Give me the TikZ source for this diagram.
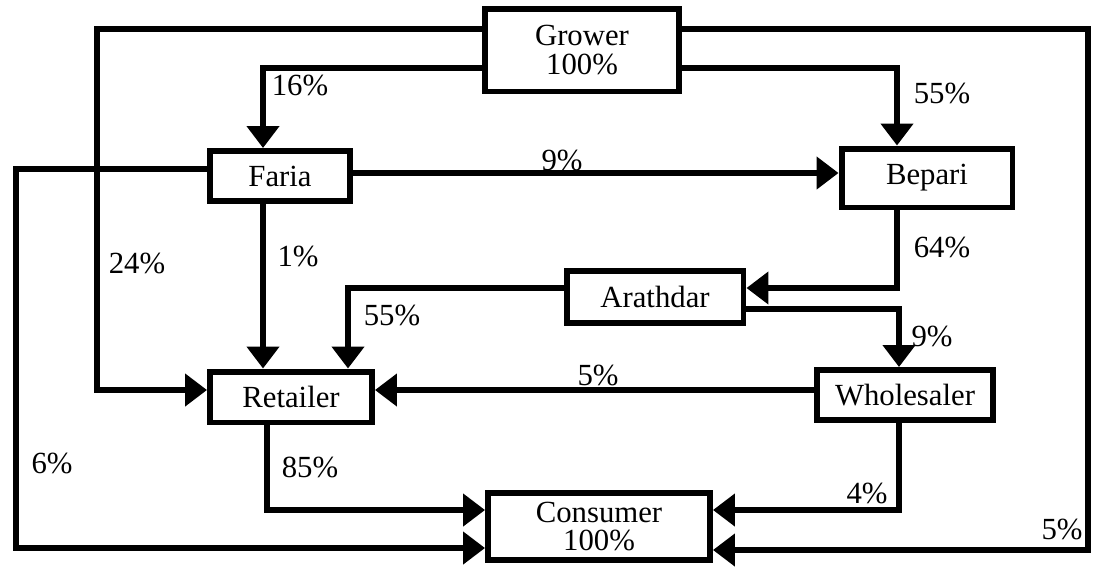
\documentclass[tikz,border=0pt]{standalone}
\usepackage{fontspec}
\setmainfont{Liberation Serif}
\usetikzlibrary{arrows.meta}
\tikzstyle{every node}=[font=\fontsize{17.5}{16}\selectfont]
\tikzstyle{block}=[draw, line width=3.4pt, inner sep=2pt, align=center]
\tikzstyle{flow}=[line width=3.8pt, line join=miter, -{Triangle[width=18pt,length=12.5pt]}]
\tikzstyle{pct}=[inner sep=0pt]

\begin{document}
\begin{tikzpicture}[x=0.02cm,y=-0.02cm]
\useasboundingbox (0,0) rectangle (1094,566);
%Market actors
	\node[block, minimum width=3.88cm, minimum height=1.66cm] (grower) at (582,50) {Grower\\100\%};
	\node[block, minimum width=2.8cm, minimum height=1.0cm] (faria) at (280,176) {Faria};
	\node[block, minimum width=3.42cm, minimum height=1.18cm] (bepari) at (927,178) {Bepari};
	\node[block, minimum width=3.54cm, minimum height=1.04cm] (arathdar) at (655,297) {Arathdar};
	\node[block, minimum width=3.24cm, minimum height=1.02cm] (retailer) at (291,397) {Retailer};
	\node[block, minimum width=3.52cm, minimum height=1.0cm] (wholesaler) at (905,395) {Wholesaler};
	\node[block, minimum width=4.44cm, minimum height=1.34cm] (consumer) at (599,526.5) {Consumer\\100\%};
%Flows out of the grower
	\draw[flow] (grower.west |- 0,68) -| (263,0 |- faria.north);
	\draw[flow] (grower.east |- 0,68) -| (897,0 |- bepari.north);
	\draw[flow] (grower.west |- 0,29) -| (97,390) -- (retailer.west |- 0,390);
	\draw[flow] (grower.east |- 0,29) -| (1088,550) -- (consumer.east |- 0,550);
%Flows out of the faria
	\draw[flow] (faria.east |- 0,173) -- (bepari.west |- 0,173);
	\draw[flow] (263,0 |- faria.south) -- (263,0 |- retailer.north);
	\draw[flow] (faria.west |- 0,169) -| (16,548) -- (consumer.west |- 0,548);
%Bepari, arathdar and wholesaler
	\draw[flow] (897,0 |- bepari.south) |- (arathdar.east |- 0,288);
	\draw[flow] (arathdar.west |- 0,288) -| (348,0 |- retailer.north);
	\draw[flow] (arathdar.east |- 0,309) -| (899,0 |- wholesaler.north);
	\draw[flow] (wholesaler.west |- 0,390) -- (retailer.east |- 0,390);
%Flows into the consumer
	\draw[flow] (267,0 |- retailer.south) |- (consumer.west |- 0,510);
	\draw[flow] (899,0 |- wholesaler.south) |- (consumer.east |- 0,510);
%Shares
	\node[pct] (gf) at (300,85) {16\%};
	\node[pct] (gb) at (942,93) {55\%};
	\node[pct] (gr) at (137,263) {24\%};
	\node[pct] (gc) at (1062,529) {5\%};
	\node[pct] (fb) at (562,160) {9\%};
	\node[pct] (fr) at (298,256) {1\%};
	\node[pct] (fc) at (52,463) {6\%};
	\node[pct] (ba) at (942,247) {64\%};
	\node[pct] (ar) at (392,315) {55\%};
	\node[pct] (aw) at (932,336) {9\%};
	\node[pct] (wr) at (598,375) {5\%};
	\node[pct] (rc) at (310,467) {85\%};
	\node[pct] (wc) at (867,493) {4\%};
\end{tikzpicture}
\end{document}
